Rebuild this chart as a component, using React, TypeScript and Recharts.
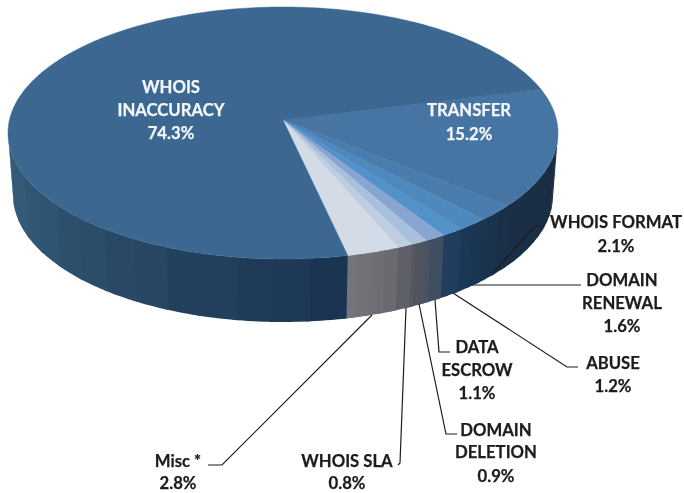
import React from 'react';
import { PieChart, Pie, Cell } from 'recharts';

const categories = ['TRANSFER', 'WHOIS FORMAT', 'DOMAIN RENEWAL', 'ABUSE', 'DATA ESCROW', 'DOMAIN DELETION', 'WHOIS SLA', 'Misc *', 'WHOIS INACCURACY'];
const shares = [15.2, 2.1, 1.6, 1.2, 1.1, 0.9, 0.8, 2.8, 74.3];

const TOP_COLORS = ['#4674a3', '#4a7dae', '#4f88bd', '#5391c9', '#88a4d0', '#a9c0dc', '#bfcde0', '#d3dbe6', '#3b6790'];
// wall colour at the start and end of each slice (clockwise)
const WALL_COLORS = [
    ['#1a2c40', '#1a3048'],
    ['#1a3048', '#1a3552'],
    ['#1a3552', '#1d3a5a'],
    ['#1f3d5e', '#233f5e'],
    ['#3f4e60', '#4b5564'],
    ['#50545f', '#5a5c66'],
    ['#5e5f68', '#66666c'],
    ['#6a6a70', '#77777f'],
    ['#1b3451', '#38627f'],
];

const data = categories.map((name, i) => ({ name, value: shares[i] }));

// label text lines and leader lines, by category
const LABELS: Record<string, { x: number; lines: string[]; ys: number[]; leader?: string; white?: boolean }> = {
    'WHOIS INACCURACY': { x: 171, lines: ['WHOIS', 'INACCURACY', '74.3%'], ys: [87, 110, 133], white: true },
    TRANSFER: { x: 469, lines: ['TRANSFER', '15.2%'], ys: [110, 134], white: true },
    'WHOIS FORMAT': { x: 616, lines: ['WHOIS FORMAT', '2.1%'], ys: [222, 246], leader: '493,273 535,226 545,226' },
    'DOMAIN RENEWAL': { x: 622, lines: ['DOMAIN', 'RENEWAL', '1.6%'], ys: [280, 303, 326], leader: '472,285 581,285' },
    ABUSE: { x: 613, lines: ['ABUSE', '1.2%'], ys: [363, 386], leader: '453,293 567,367 578,367' },
    'DATA ESCROW': { x: 477, lines: ['DATA', 'ESCROW', '1.1%'], ys: [347, 370, 393], leader: '435,300 439,352 450,352' },
    'DOMAIN DELETION': { x: 496, lines: ['DOMAIN', 'DELETION', '0.9%'], ys: [430, 452, 476], leader: '419,304 446,434 457,434' },
    'WHOIS SLA': { x: 347, lines: ['WHOIS SLA', '0.8%'], ys: [461, 483], leader: '406,308 400,463 398,465' },
    'Misc *': { x: 178, lines: ['Misc *', '2.8%'], ys: [461, 483], leader: '372,315 222,465 208,465' },
};

const RADIAN = Math.PI / 180;
const RY_RATIO = 126 / 275;
const BOTTOM_RX = 270;
const BOTTOM_RY = 127;
const DEPTH = 62;
const APEX_SHIFT = 0.103; // perspective: the pie centre sits above the centre of the ellipse

// true pie angle -> point on the unit circle of the ellipse, in perspective
const project = (deg: number) => {
    const s = Math.sin(deg * RADIAN);
    const c = Math.cos(deg * RADIAN);
    const d = 1 + APEX_SHIFT * s;
    return { x: (Math.sqrt(1 - APEX_SHIFT * APEX_SHIFT) * c) / d, y: (s + APEX_SHIFT) / d };
};

const hexToRgb = (h: string) => [1, 3, 5].map((i) => parseInt(h.slice(i, i + 2), 16));
const mix = (a: string, b: string, t: number) => {
    const A = hexToRgb(a);
    const B = hexToRgb(b);
    return `rgb(${A.map((v, i) => Math.round(v + (B[i] - v) * t)).join(',')})`;
};

const Slab = (props: any) => {
    const { cx, cy, outerRadius, startAngle, endAngle, fill, index } = props;
    const rx = outerRadius;
    const ry = outerRadius * RY_RATIO;
    const from = Math.max(startAngle, endAngle);
    const to = Math.min(startAngle, endAngle);
    const steps = Math.max(2, Math.ceil(from - to));
    const rim: { x: number; y: number }[] = [];
    for (let i = 0; i <= steps; i++) rim.push(project(from + ((to - from) * i) / steps));

    const top =
        `M${cx},${cy - APEX_SHIFT * ry} ` +
        rim.map((p) => `L${cx + rx * p.x},${cy - ry * p.y}`).join(' ') +
        ' Z';

    // wall, only where the rim faces the viewer, cut in vertical bands.
    // it runs a bit past the slice end, under the next slice's wall
    const front = [...rim, project(to - 1.2)].filter((p) => p.y <= 0);
    const bandSize = index === 8 ? 7 : 3;
    const stops = WALL_COLORS[index];
    const bands: React.ReactNode[] = [];
    for (let i = 0, n = 0; i < front.length - 1; i += bandSize, n++) {
        const part = front.slice(i, i + bandSize + 2);
        const upper = part.map((p) => `${cx + rx * p.x},${cy - ry * p.y}`);
        const lower = part
            .map((p) => `${cx + BOTTOM_RX * p.x},${cy + DEPTH - BOTTOM_RY * p.y}`)
            .reverse();
        const t = i / (front.length - 1);
        const color = mix(stops[0], stops[1], Math.min(1, t + (n % 2 ? 0.03 : 0)));
        bands.push(<polygon key={i} points={[...upper, ...lower].join(' ')} fill={color} />);
    }

    return (
        <g>
            {bands}
            <path d={top} fill={fill} stroke={fill} strokeWidth={0.5} />
        </g>
    );
};

const renderLabel = (props: any) => {
    const spec = LABELS[props.name];
    if (!spec) return null;
    const ink = spec.white ? '#f4f7fa' : '#1c1c1c';
    return (
        <g>
            {spec.leader && <polyline points={spec.leader} fill="none" stroke="#1c1c1c" strokeWidth={1.2} />}
            <text
                textAnchor="middle"
                fontFamily="Lato, sans-serif"
                fontWeight={700}
                fontSize={16.7}
                fill={ink}
                stroke={ink}
                strokeWidth={0.25}
            >
                {spec.lines.map((line, i) => (
                    <tspan key={i} x={spec.x} y={spec.ys[i]} dominantBaseline="central">
                        {line}
                    </tspan>
                ))}
            </text>
        </g>
    );
};

export default function App() {
    return (
        <div style={{ position: 'absolute', left: 0, top: 0, width: 684, height: 493, background: '#fff', filter: 'blur(0.35px)' }}>
            <PieChart width={684} height={493} margin={{ top: 0, right: 0, bottom: 0, left: 0 }}>
                <Pie
                    data={data}
                    dataKey="value"
                    nameKey="name"
                    cx={283}
                    cy={133}
                    innerRadius={0}
                    outerRadius={275}
                    startAngle={14.8}
                    endAngle={-345.2}
                    stroke="none"
                    shape={Slab}
                    label={renderLabel}
                    labelLine={false}
                    isAnimationActive={false}
                >
                    {data.map((entry, index) => (
                        <Cell key={`cell-${index}`} fill={TOP_COLORS[index]} />
                    ))}
                </Pie>
            </PieChart>
        </div>
    );
}
